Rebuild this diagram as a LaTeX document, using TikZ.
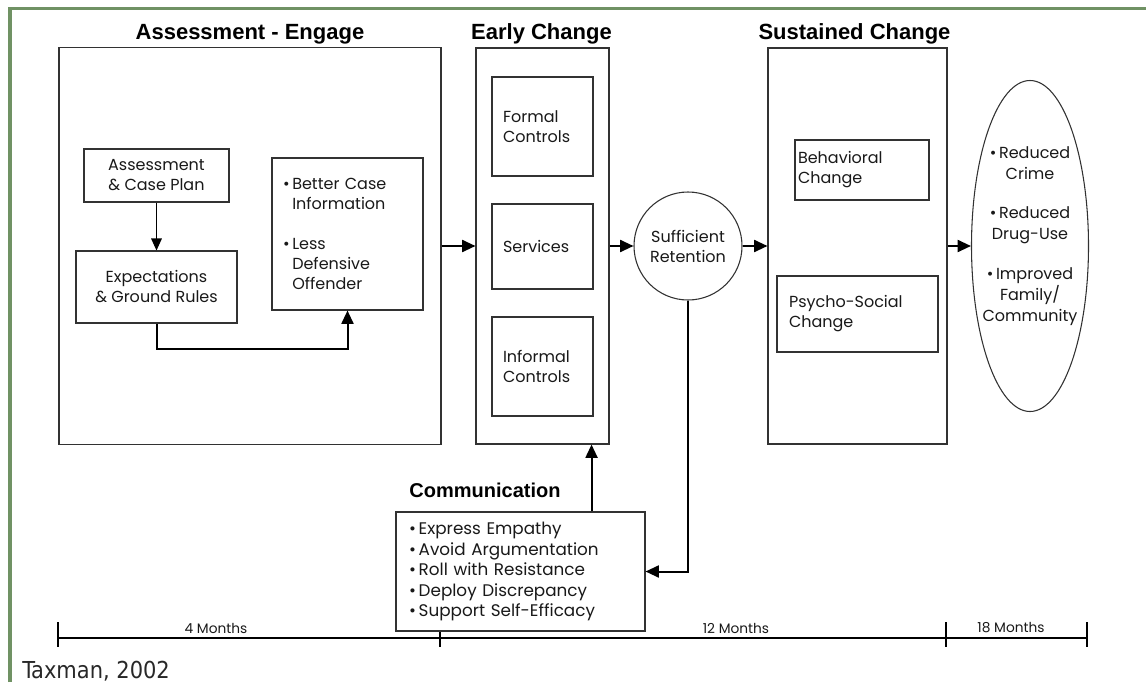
\documentclass[tikz,border=0pt]{standalone}
\usepackage{fontspec}
\usetikzlibrary{arrows.meta,shapes.geometric,calc}
\setmainfont{Poppins}
\newfontfamily\popfont{Poppins}
\newfontfamily\titlefont{Liberation Sans}
\newfontfamily\capfont{DejaVu Sans Condensed}
\newcommand\bodyfont{\popfont}
\newcommand\bsize{\fontsize{12}{15}\selectfont}
\definecolor{framec}{RGB}{112,146,100}
\definecolor{boxc}{RGB}{50,50,50}
\definecolor{txt}{RGB}{25,25,25}
\tikzset{
  box/.style={draw=boxc, fill=white, line width=0.8pt, inner sep=0pt, font=\bodyfont\bsize, text=txt},
  arr/.style={line width=1.5pt, -{Triangle[length=10pt,width=9pt]}},
  thinarr/.style={line width=0.8pt, -{Triangle[length=9pt,width=8pt]}},
  ttl/.style={font=\titlefont\bfseries\fontsize{16.5}{18}\selectfont, anchor=base, inner sep=0pt},
  mlab/.style={font=\bodyfont\fontsize{10.3}{12}\selectfont, inner sep=0pt, text=txt},
}
\begin{document}
\begin{tikzpicture}[x=0.75pt,y=-0.75pt]
\useasboundingbox (0,0) rectangle (1146,682);
% frame
\draw[framec, line width=2.5pt] (10,682) -- (10,8.5) -- (1146,8.5);
% timeline
\coordinate (t0) at (58,638);
\coordinate (t1) at (440,638);
\coordinate (t2) at (946,638);
\coordinate (t3) at (1087,638);
\draw[line width=1.5pt] (t0) -- (t3);
\foreach \t in {t0,t1,t2,t3}{\draw[line width=2pt] ($(\t)+(0,-16)$) -- ($(\t)+(0,9)$);}
\node[mlab] (m4) at (216,628) {4 Months};
\node[mlab] (m12) at (736,628) {12 Months};
\node[mlab] (m18) at (1011,628) {18 Months};
% titles
\node[ttl] (ttlA) at (250,39) {Assessment - Engage};
\node[ttl] (ttlE) at (541.5,39) {Early Change};
\node[ttl] (ttlS) at (854.5,39) {Sustained Change};
\node[ttl, font=\titlefont\bfseries\fontsize{15}{17}\selectfont] (ttlC) at (485,497) {Communication};
% assessment column
\node[box, minimum width=286.5pt, minimum height=297.75pt] (big1) at (250,246) {};
\node[box, minimum width=108.75pt, minimum height=39.75pt, align=center] (acp) at (156.5,175.5) {Assessment\\\& Case Plan};
\node[box, minimum width=120.75pt, minimum height=54pt, align=center] (exp) at (156.5,287) {Expectations\\\& Ground Rules};
\node[box, minimum width=113.25pt, minimum height=114pt, inner xsep=8.25pt, text width=96.75pt, align=left] (bcb) at (347.5,234)
  {\textbullet\,Better Case\\\hphantom{\textbullet\,}Information\\[15pt]\textbullet\,Less\\\hphantom{\textbullet\,}Defensive\\\hphantom{\textbullet\,}Offender};
% early change column
\node[box, minimum width=99.75pt, minimum height=297pt] (early) at (542.5,246) {};
\node[box, minimum width=75.75pt, minimum height=74.25pt, inner xsep=8.25pt, text width=59.25pt, align=left] (formal) at (542.5,126.5) {Formal\\Controls};
\node[box, minimum width=75.75pt, minimum height=63.75pt, inner xsep=8.25pt, text width=59.25pt, align=left] (serv) at (542.5,246.5) {Services};
\node[box, minimum width=75.75pt, minimum height=74.25pt, inner xsep=8.25pt, text width=59.25pt, align=left] (informal) at (542.5,366.5) {Informal\\Controls};
% retention
\node[box, circle, minimum size=81pt, align=center] (ret) at (688,246) {Sufficient\\Retention};
% sustained change column
\node[box, minimum width=134.25pt, minimum height=297pt] (sust) at (857.5,246) {};
\node[box, minimum width=100.5pt, minimum height=45pt, inner xsep=2.25pt, text width=96pt, align=left] (behav) at (862,170) {Behavioral\\Change};
\node[box, minimum width=120.75pt, minimum height=57pt, inner xsep=9pt, text width=102.75pt, align=left] (psy) at (857.5,314) {Psycho-Social\\Change};
% outcomes
\node[box, ellipse, minimum width=87.75pt, minimum height=248.25pt] (out) at (1030,246) {};
\node[font=\bodyfont\fontsize{12}{15.75}\selectfont, text=txt, align=center, inner sep=0pt] (outtxt) at (1030,236)
  {\textbullet\,Reduced\\Crime\\[14pt]\textbullet\,Reduced\\Drug-Use\\[14pt]\textbullet\,Improved\\Family/\\Community};
% communication
\node[box, minimum width=186.75pt, minimum height=89.25pt, inner xsep=9.75pt, text width=167.25pt, align=left, font=\bodyfont\fontsize{12.6}{15.4}\selectfont] (comm) at (520.5,571.5)
  {\textbullet\,Express Empathy\\\textbullet\,Avoid Argumentation\\\textbullet\,Roll with Resistance\\\textbullet\,Deploy Discrepancy\\\textbullet\,Support Self-Efficacy};
% connectors
\draw[thinarr] (acp) -- (exp);
\draw[arr] (exp.south) -- ++(0,25) -| (bcb.south);
\draw[arr] (big1) -- (early);
\draw[arr] (early) -- (ret);
\draw[arr] (ret) -- (sust);
\draw[arr] (sust) -- (out);
\draw[arr] ([xshift=-40.5pt]comm.north east) -- ([xshift=-40.5pt]comm.north east |- early.south);
\draw[arr] (ret.south) |- (comm.east);
% source
\node[font=\capfont\fontsize{17.5}{19}\selectfont, text={rgb,255:red,40;green,40;blue,40}, anchor=base west, inner sep=0pt] (src) at (22,678) {Taxman, 2002};
\end{tikzpicture}
\end{document}
